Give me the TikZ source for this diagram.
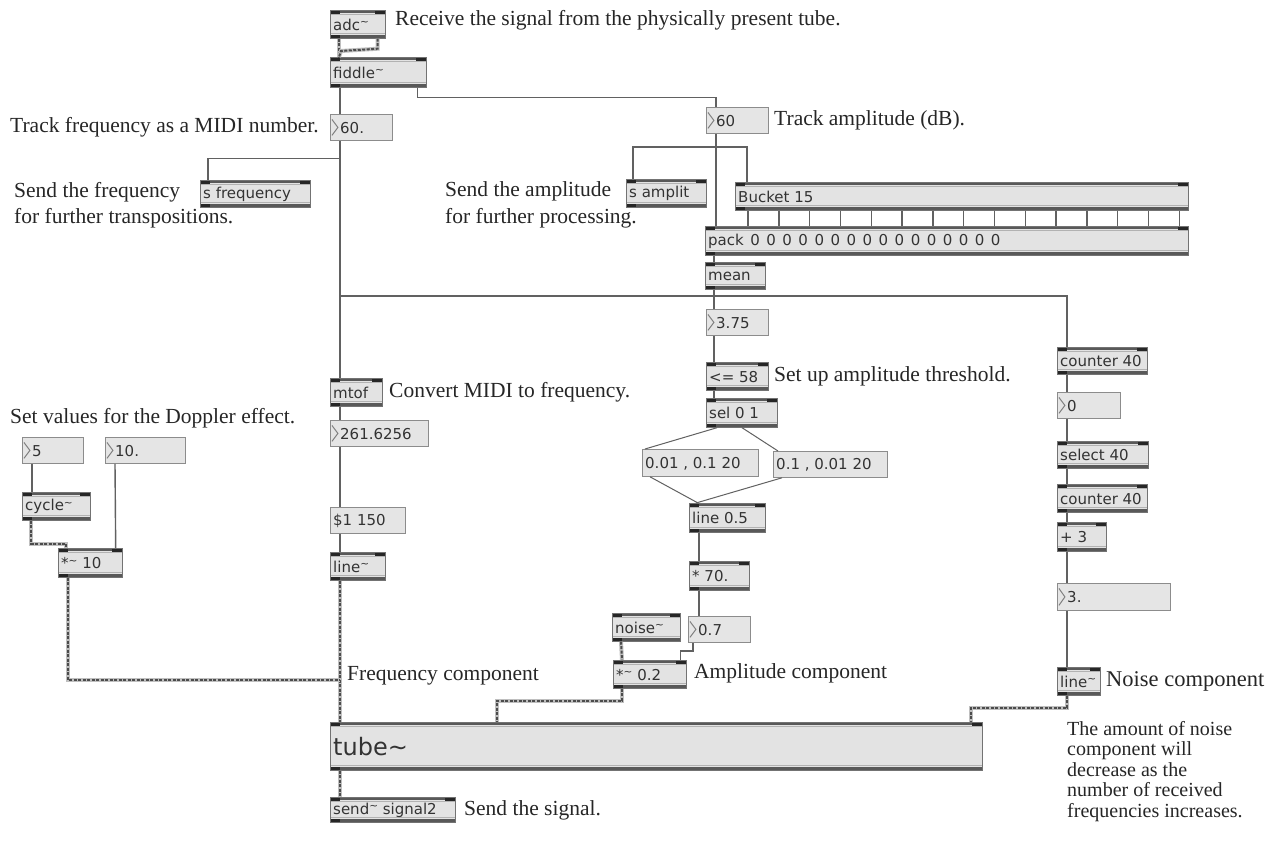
\documentclass[tikz,border=0pt]{standalone}
\usepackage{fontspec}
\setmainfont{Liberation Serif}
\newfontfamily\boxfont{DejaVu Sans}
\newcommand\mtl{\raisebox{0.3em}{\fontsize{10.5}{10.5}\selectfont\textasciitilde}}
\newcommand\mzero{\hspace{6.5pt}0}
\tikzset{
  obj/.style={draw=black!55, fill=black!11, line width=0.7pt, anchor=north west, inner sep=0pt,
    path picture={
      \fill[black!65] (path picture bounding box.north west) rectangle ([yshift=-3pt]path picture bounding box.north east);
      \fill[black!65] (path picture bounding box.south west) rectangle ([yshift=3pt]path picture bounding box.south east);
      \fill[black!30] ([yshift=-4.5pt]path picture bounding box.north west) rectangle ([yshift=-3.5pt]path picture bounding box.north east);
      \fill[black!30] ([yshift=4.5pt]path picture bounding box.south west) rectangle ([yshift=5.5pt]path picture bounding box.south east);
      \fill[black!85] (path picture bounding box.north west) rectangle ([xshift=10pt,yshift=-3.5pt]path picture bounding box.north west);
      \fill[black!85] (path picture bounding box.north east) rectangle ([xshift=-10pt,yshift=-3.5pt]path picture bounding box.north east);
      \fill[black!85] (path picture bounding box.south west) rectangle ([xshift=10pt,yshift=3.5pt]path picture bounding box.south west);
    }},
  num/.style={draw=black!45, fill=black!10, line width=0.8pt, anchor=north west, inner sep=0pt,
    path picture={
      \draw[black!50, line width=1pt, line join=miter] ([xshift=1.5pt,yshift=-5pt]path picture bounding box.north west)
        -- ([xshift=7.5pt]path picture bounding box.west)
        -- ([xshift=1.5pt,yshift=5pt]path picture bounding box.south west);
    }},
  msg/.style={draw=black!45, fill=black!10, line width=0.8pt, anchor=north west, inner sep=0pt},
  btext/.style={anchor=west, inner sep=3pt, yshift=-0.5pt, text=black!80, font=\boxfont\fontsize{15}{15}\selectfont},
  btextn/.style={btext, xshift=7pt},
  conn/.style={draw=black!62, line width=1.4pt},
  sig/.style={draw=black!70, line width=2pt, dash pattern=on 3pt off 1.5pt,
    preaction={draw=black!25, line width=4pt, solid}},
  captxt/.style={anchor=west, inner sep=0pt, text=black!85, font=\fontsize{21.5}{21.5}\selectfont},
}
\newcommand\mxobj[6]{\node[obj,minimum width=#4,minimum height=#5,label={[btext]west:{#6}}] (#1) at (#2,#3) {};}
\newcommand\mxnum[6]{\node[num,minimum width=#4,minimum height=#5,label={[btextn]west:{#6}}] (#1) at (#2,#3) {};}
\newcommand\mxmsg[6]{\node[msg,minimum width=#4,minimum height=#5,label={[btext]west:{#6}}] (#1) at (#2,#3) {};}
\begin{document}
\begin{tikzpicture}[x=1pt,y=-1pt]
\fill[white] (0,0) rectangle (1274,845);
\useasboundingbox (0,0) rectangle (1274,845);
\coordinate (jn) at (340,296);

% ---- boxes ----
\mxobj{adc}{330}{10}{55}{28}{adc\mtl}
\mxobj{fiddle}{330}{57}{96}{30}{fiddle\mtl}
\mxnum{numA}{330}{114}{62}{26}{60.}
\mxobj{sfreq}{200}{180}{110}{27}{s frequency}
\mxnum{numB}{706}{107}{62}{26}{60}
\mxobj{samplit}{626}{179}{80}{28}{s amplit}
\mxobj{bucket}{735}{182}{453}{28}{Bucket 15}
\mxobj{pack}{705}{226}{483}{29}{pack\mzero\mzero\mzero\mzero\mzero\mzero\mzero\mzero\mzero\mzero\mzero\mzero\mzero\mzero\mzero\mzero}
\mxobj{mean}{705}{262}{60}{27}{mean}
\mxnum{nA}{706}{309}{62}{26}{3.75}
\mxobj{le}{706}{362}{62}{28}{<= 58}
\mxobj{sel}{706}{398}{71}{29}{sel 0 1}
\mxmsg{mA}{642}{449}{116}{27}{0.01 , 0.1 20}
\mxmsg{mB}{773}{451}{114}{26}{0.1 , 0.01 20}
\mxobj{lineA}{689}{503}{76}{29}{line 0.5}
\mxobj{mulA}{689}{561}{60}{29}{* 70.}
\mxobj{noise}{612}{613}{68}{28}{noise\mtl}
\mxnum{nB}{688}{616}{62}{26}{0.7}
\mxobj{mulB}{613}{660}{73}{28}{*\mtl\ 0.2}
\mxobj{mtof}{330}{378}{52}{28}{mtof}
\mxnum{nC}{330}{420}{98}{26}{261.6256}
\mxmsg{mC}{330}{507}{75}{26}{\$1 150}
\mxobj{lineF}{330}{552}{55}{28}{line\mtl}
\mxnum{nD}{22}{437}{61}{26}{5}
\mxnum{nE}{105}{437}{80}{26}{10.}
\mxobj{cyc}{22}{492}{68}{28}{cycle\mtl}
\mxobj{mulC}{58}{548}{64}{29}{*\mtl\ 10}
\node[obj,minimum width=652,minimum height=48,
  label={[btext,font=\boxfont\fontsize{24}{24}\selectfont]west:{tube\textasciitilde}}] (tube) at (330,722) {};
\mxobj{send}{330}{797}{125}{25}{send\mtl\ signal2}
\mxobj{cntA}{1057}{347}{90}{27}{counter 40}
\mxnum{nF}{1057}{392}{63}{26}{0}
\mxobj{selB}{1057}{441}{91}{27}{select 40}
\mxobj{cntB}{1057}{484}{90}{28}{counter 40}
\mxobj{plus}{1057}{522}{49}{29}{+ 3}
\mxnum{nG}{1057}{583}{113}{27}{3.}
\mxobj{lineN}{1057}{667}{43}{28}{line\mtl}

% ---- connectors ----
\draw[sig] ([xshift=9pt]adc.south west) -- ([xshift=9pt]fiddle.north west);
\draw[sig] ([xshift=-8pt]adc.south east) -- ++(0,10) -- ([xshift=11pt,yshift=6pt]fiddle.north west) -- ([xshift=9pt]fiddle.north west);
\draw[conn] ([xshift=10pt]fiddle.south west) -- ([xshift=10pt]numA.north west);
\draw[conn] ([xshift=-9pt]fiddle.south east) -- ++(0,10) -| ([xshift=10pt]numB.north west);
\draw[conn] ([xshift=10pt]numA.south west) -- ([xshift=10pt]mtof.north west);
\draw[conn] ([xshift=10pt,yshift=-18pt]numA.south west) -| ([xshift=8pt]sfreq.north west);
\draw[conn] (jn) -| ([xshift=10pt]cntA.north west);
\draw[conn] ([xshift=10pt]numB.south west) -- ([xshift=11pt]pack.north west);
\draw[conn] ([xshift=7pt]samplit.north west) -- ++(0,-32) -| ([xshift=12pt]bucket.north west);
\foreach \i in {0,...,14}
  \draw[conn] ([xshift={13+\i*30.8}]bucket.south west) -- ([xshift={13+\i*30.8}]bucket.south west |- pack.north);
\draw[conn] ([xshift=9pt]pack.south west) -- ([xshift=9pt]mean.north west);
\draw[conn] ([xshift=9pt]mean.south west) -- ([xshift=8pt]nA.north west);
\draw[conn] ([xshift=8pt]nA.south west) -- ([xshift=8pt]le.north west);
\draw[conn] ([xshift=8pt]le.south west) -- ([xshift=8pt]sel.north west);
\draw[conn, line width=1pt] ([xshift=11pt]sel.south west) -- ([xshift=3pt]mA.north west);
\draw[conn, line width=1pt] ([xshift=36pt]sel.south west) -- ([xshift=5pt]mB.north west);
\draw[conn, line width=1pt] ([xshift=8pt]mA.south west) -- ([xshift=9pt]lineA.north west);
\draw[conn, line width=1pt] ([xshift=9pt]mB.south west) -- ([xshift=7pt]lineA.north west);
\draw[conn] ([xshift=10pt]lineA.south west) -- ([xshift=10pt]mulA.north west);
\draw[conn] ([xshift=10pt]mulA.south west) -- ([xshift=11pt]nB.north west);
\draw[conn] ([xshift=5pt]nB.south west) -- ++(0,8) -| ([xshift=-6pt]mulB.north east);
\draw[sig] ([xshift=9pt]noise.south west) -- ([xshift=9pt]mulB.north west);
\draw[sig] ([xshift=9pt]mulB.south west) -- ++(0,12) -| ([xshift=167pt]tube.north west);
\draw[conn] ([xshift=10pt]mtof.south west) -- ([xshift=10pt]nC.north west);
\draw[conn] ([xshift=10pt]nC.south west) -- ([xshift=10pt]mC.north west);
\draw[conn] ([xshift=10pt]mC.south west) -- ([xshift=10pt]lineF.north west);
\draw[sig] ([xshift=10pt]lineF.south west) -- ([xshift=10pt]tube.north west);
\draw[conn] ([xshift=10pt]nD.south west) -- ([xshift=10pt]cyc.north west);
\draw[conn] ([xshift=10pt]nE.south west) -- ([xshift=-7pt]mulC.north east);
\draw[sig] ([xshift=9pt]cyc.south west) -- ++(0,23) -| ([xshift=8pt]mulC.north west);
\draw[sig] ([xshift=10pt]mulC.south west) |- ([xshift=10pt,yshift=42pt]tube.north west);
\draw[conn] ([xshift=10pt]cntA.south west) -- ([xshift=10pt]nF.north west);
\draw[conn] ([xshift=10pt]nF.south west) -- ([xshift=10pt]selB.north west);
\draw[conn] ([xshift=10pt]selB.south west) -- ([xshift=10pt]cntB.north west);
\draw[conn] ([xshift=10pt]cntB.south west) -- ([xshift=10pt]plus.north west);
\draw[conn] ([xshift=10pt]plus.south west) -- ([xshift=10pt]nG.north west);
\draw[conn] ([xshift=10pt]nG.south west) -- ([xshift=10pt]lineN.north west);
\draw[sig] ([xshift=10pt]lineN.south west) -- ++(0,12) -| ([xshift=-12pt]tube.north east);
\draw[sig] ([xshift=10pt]tube.south west) -- ([xshift=10pt]send.north west);

% ---- captions ----
\node[captxt] (c1) at (395,20) {Receive the signal from the physically present tube.};
\node[captxt] (c2) at (10,127) {Track frequency as a MIDI number.};
\node[captxt] (c3) at (14,192) {Send the frequency};
\node[captxt] (c4) at (14,218) {for further transpositions.};
\node[captxt] (c5) at (774,120) {Track amplitude (dB).};
\node[captxt] (c6) at (445,191) {Send the amplitude};
\node[captxt] (c7) at (445,218) {for further processing.};
\node[captxt] (c8) at (774,376) {Set up amplitude threshold.};
\node[captxt] (c9) at (389,392) {Convert MIDI to frequency.};
\node[captxt] (c10) at (10,418) {Set values for the Doppler effect.};
\node[captxt] (c11) at (347,676) {Frequency component};
\node[captxt] (c12) at (694,673) {Amplitude component};
\node[captxt, font=\fontsize{22.5}{22.5}\selectfont] (c13) at (1106,681) {Noise component};
\node[captxt, anchor=north west, align=left, font=\fontsize{20}{20.5}\selectfont] (c14) at (1067,721)
  {The amount of noise\\component will\\decrease as the\\number of received\\frequencies increases.};
\node[captxt] (c15) at (464,810) {Send the signal.};
\end{tikzpicture}
\end{document}
